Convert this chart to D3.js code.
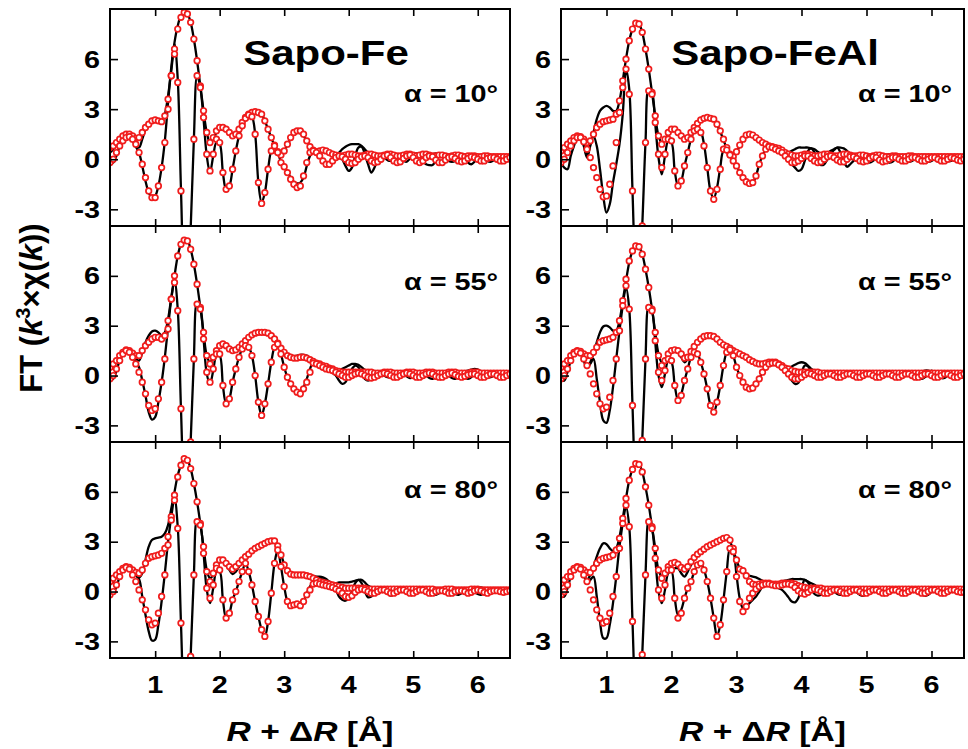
<!DOCTYPE html>
<html><head><meta charset="utf-8">
<script src="https://cdn.jsdelivr.net/npm/d3@7"></script>
<style>body{margin:0;background:#fff}svg{display:block}</style>
</head><body>
<svg id="c" width="968" height="749"></svg>
<script>
// ---------- data ----------
const rGrid = [0.30,0.35,0.40,0.45,0.50,0.55,0.60,0.65,0.70,0.75,
0.80,0.85,0.90,0.95,1.00,1.05,1.10,1.15,1.20,1.25,
1.30,1.35,1.40,1.45,1.50,1.55,1.60,1.65,1.70,1.75,
1.80,1.85,1.90,1.95,2.00,2.05,2.10,2.15,2.20,2.25,
2.30,2.35,2.40,2.45,2.50,2.55,2.60,2.65,2.70,2.75,
2.80,2.85,2.90,2.95,3.00,3.05,3.10,3.15,3.20,3.25,
3.30,3.35,3.40,3.45,3.50,3.55,3.60,3.65,3.70,3.75,
3.80,3.85,3.90,3.95,4.00,4.05,4.10,4.15,4.20,4.25,
4.30,4.35,4.40,4.45,4.50,4.55,4.60,4.65,4.70,4.75,
4.80,4.85,4.90,4.95,5.00,5.05,5.10,5.15,5.20,5.25,
5.30,5.35,5.40,5.45,5.50,5.55,5.60,5.65,5.70,5.75,
5.80,5.85,5.90,5.95,6.00,6.05,6.10,6.15,6.20,6.25,
6.30,6.35,6.40,6.45,6.50];

// Sapo-Fe, alpha = 10
const fe10DataMag = [0.4,0.6,0.9,1.2,1.4,1.5,1.45,1.2,0.8,0.7,
1.2,1.8,2.1,2.3,2.35,2.3,2.25,2.7,3.8,5.3,
7.0,8.0,8.6,8.8,8.7,8.2,7.2,5.9,4.4,2.9,
1.6,1.0,1.2,1.6,1.9,1.95,1.85,1.6,1.4,1.5,
1.8,2.2,2.5,2.7,2.8,2.85,2.8,2.7,2.3,1.8,
1.3,0.8,0.4,0.3,0.5,0.85,1.25,1.5,1.6,1.55,
1.4,1.1,0.8,0.55,0.5,0.55,0.55,0.5,0.4,0.3,
0.3,0.4,0.6,0.75,0.85,0.9,0.9,0.9,0.8,0.6,
0.4,0.3,0.2,0.2,0.3,0.35,0.35,0.3,0.2,0.2,
0.3,0.35,0.35,0.3,0.3,0.35,0.35,0.35,0.3,0.25,
0.3,0.35,0.3,0.2,0.2,0.25,0.3,0.3,0.25,0.2,
0.25,0.3,0.3,0.25,0.2,0.2,0.25,0.25,0.2,0.15,
0.2,0.2,0.15,0.15,0.15];
const fe10DataIm = [0.0,-0.2,0.2,0.8,1.2,1.45,1.4,1.1,0.75,0.4,
-0.4,-1.3,-2.0,-2.3,-2.2,-1.6,-0.5,1.1,3.4,5.5,
6.9,4.8,-1.8,-7.3,-8.6,-4.2,1.2,5.0,4.3,2.4,
0.2,-0.8,0.2,1.0,0.9,-0.8,-1.8,-1.6,-0.6,0.5,
1.4,2.0,2.45,2.65,2.55,1.5,-1.4,-2.6,-2.0,-0.6,
0.5,0.75,0.4,-0.15,-0.45,-0.75,-1.1,-1.35,-1.45,-1.4,
-1.1,-0.4,0.2,0.45,0.4,0.2,-0.1,-0.3,-0.3,-0.1,
0.1,0.2,0.0,-0.4,-0.7,-0.5,0.2,0.7,0.75,0.3,
-0.3,-0.8,-0.5,0.0,0.2,0.1,-0.05,-0.1,0.1,0.25,
0.2,-0.1,-0.15,0.05,0.2,0.3,0.2,-0.1,-0.3,-0.35,
-0.35,-0.1,0.15,0.2,0.05,-0.1,-0.15,-0.1,0.1,0.2,
0.15,-0.2,-0.3,-0.15,0.1,0.2,0.1,-0.1,-0.15,-0.05,
0.1,0.1,0.0,-0.1,-0.1];
const fe10FitMag = [0.7,0.8,1.0,1.2,1.4,1.5,1.5,1.4,1.25,1.3,
1.6,1.9,2.1,2.3,2.35,2.3,2.25,2.6,3.6,5.0,
6.6,7.8,8.5,8.8,8.7,8.2,7.2,5.9,4.4,2.9,
1.6,1.0,1.3,1.7,1.9,1.9,1.8,1.6,1.4,1.5,
1.8,2.2,2.5,2.7,2.8,2.85,2.8,2.7,2.3,1.8,
1.3,0.85,0.45,0.25,0.5,0.9,1.3,1.6,1.7,1.7,
1.5,1.1,0.75,0.55,0.45,0.5,0.55,0.5,0.4,0.3,
0.25,0.2,0.2,0.25,0.3,0.3,0.25,0.2,0.2,0.25,
0.3,0.3,0.25,0.2,0.2,0.25,0.3,0.3,0.25,0.2,
0.2,0.25,0.3,0.3,0.25,0.2,0.25,0.3,0.3,0.25,
0.2,0.2,0.25,0.25,0.2,0.15,0.2,0.25,0.25,0.2,
0.15,0.2,0.2,0.2,0.15,0.15,0.2,0.2,0.15,0.15,
0.15,0.15,0.15,0.15,0.15];
const fe10FitIm = [-0.2,0.0,0.4,0.8,1.1,1.3,1.35,1.2,0.9,0.4,
-0.3,-1.1,-1.9,-2.3,-2.3,-1.6,-0.5,1.0,3.0,5.0,
6.3,4.6,-1.9,-7.3,-8.6,-4.2,1.2,5.0,4.3,2.5,
0.3,-0.7,0.3,1.2,1.0,-0.8,-1.8,-1.6,-0.6,0.5,
1.4,2.0,2.45,2.65,2.55,1.5,-1.4,-2.65,-2.0,-0.6,
0.5,0.8,0.4,-0.2,-0.45,-0.8,-1.2,-1.5,-1.7,-1.6,
-1.0,-0.2,0.4,0.5,0.4,0.2,-0.1,-0.3,-0.3,-0.1,
0.1,0.2,0.15,0.0,-0.2,-0.25,-0.2,0.0,0.15,0.2,
0.1,-0.1,-0.2,-0.15,0.0,0.2,0.25,0.1,-0.1,-0.2,
-0.15,0.05,0.2,0.25,0.1,-0.1,-0.2,-0.1,0.1,0.2,
0.15,-0.05,-0.2,-0.2,-0.05,0.1,0.15,0.05,-0.1,-0.15,
-0.1,0.05,0.15,0.1,0.0,-0.1,-0.1,0.05,0.1,0.1,
0.0,-0.1,-0.1,0.0,0.1];

// Sapo-Fe, alpha = 55
const fe55DataMag = [0.4,0.6,0.9,1.2,1.4,1.55,1.5,1.3,1.0,0.9,
1.4,2.0,2.4,2.65,2.7,2.6,2.4,2.6,3.4,4.7,
6.0,7.2,7.9,8.15,8.1,7.6,6.7,5.5,4.1,2.6,
1.2,0.8,1.1,1.5,1.75,1.85,1.75,1.6,1.5,1.55,
1.7,1.9,2.1,2.3,2.45,2.55,2.6,2.6,2.6,2.55,
2.4,2.2,1.95,1.7,1.45,1.25,1.15,1.15,1.2,1.25,
1.25,1.2,1.05,0.9,0.75,0.7,0.6,0.55,0.45,0.35,
0.3,0.3,0.4,0.5,0.6,0.7,0.7,0.65,0.5,0.35,
0.3,0.25,0.2,0.2,0.2,0.25,0.25,0.2,0.2,0.2,
0.2,0.2,0.25,0.25,0.2,0.2,0.2,0.2,0.2,0.25,
0.25,0.2,0.2,0.15,0.2,0.25,0.3,0.3,0.25,0.2,
0.25,0.3,0.35,0.4,0.35,0.25,0.2,0.2,0.2,0.2,
0.2,0.2,0.15,0.15,0.15];
const fe55DataIm = [-0.2,-0.2,0.3,0.9,1.3,1.5,1.4,1.1,0.8,0.5,
-0.3,-1.2,-2.2,-2.65,-2.5,-1.6,-0.4,1.1,2.9,4.6,
5.7,4.0,-2.0,-6.8,-8.0,-4.0,1.0,4.4,4.1,2.2,
0.1,-0.5,0.3,1.2,1.2,-0.6,-1.7,-1.4,-0.4,0.4,
1.1,1.6,1.8,1.7,1.2,0.0,-1.6,-2.4,-1.7,-0.5,
0.8,1.7,1.9,1.3,0.5,-0.1,-0.5,-0.8,-1.0,-1.0,
-0.7,-0.2,0.4,0.8,0.7,0.6,0.5,0.4,0.3,0.15,
0.0,-0.3,-0.5,-0.4,0.0,0.4,0.6,0.5,0.1,-0.2,
-0.3,-0.2,0.0,0.1,0.1,0.0,-0.1,-0.1,0.0,0.1,
0.15,0.1,-0.05,-0.15,-0.1,0.05,0.15,0.15,0.0,-0.15,
-0.2,-0.1,0.05,0.1,0.1,0.0,-0.15,-0.2,-0.1,0.05,
-0.1,-0.2,-0.1,0.2,0.35,0.2,0.0,-0.1,-0.1,0.0,
0.1,0.1,0.0,-0.1,-0.1];
const fe55FitMag = [0.5,0.7,0.9,1.2,1.4,1.55,1.5,1.35,1.2,1.2,
1.5,1.8,2.0,2.2,2.3,2.3,2.2,2.4,3.3,4.6,
6.0,7.2,7.9,8.15,8.1,7.6,6.7,5.5,4.1,2.6,
1.2,0.7,1.1,1.5,1.8,1.9,1.8,1.6,1.5,1.55,
1.7,1.9,2.1,2.3,2.45,2.55,2.6,2.6,2.6,2.55,
2.4,2.2,1.95,1.65,1.4,1.2,1.1,1.05,1.05,1.1,
1.1,1.05,0.95,0.85,0.75,0.7,0.6,0.55,0.45,0.4,
0.3,0.25,0.2,0.2,0.2,0.2,0.2,0.2,0.2,0.2,
0.2,0.2,0.15,0.15,0.15,0.2,0.2,0.2,0.15,0.15,
0.15,0.15,0.2,0.2,0.2,0.15,0.15,0.15,0.2,0.2,
0.2,0.15,0.15,0.15,0.15,0.2,0.2,0.2,0.15,0.15,
0.15,0.15,0.2,0.2,0.2,0.15,0.15,0.15,0.15,0.15,
0.15,0.15,0.15,0.15,0.15];
const fe55FitIm = [-0.2,0.0,0.4,0.9,1.3,1.5,1.4,1.1,0.7,0.2,
-0.4,-1.1,-1.8,-2.1,-2.0,-1.4,-0.4,1.0,2.8,4.6,
5.6,3.9,-2.0,-6.8,-8.0,-4.0,1.0,4.3,4.0,2.2,
0.2,-0.4,0.4,1.3,1.3,-0.6,-1.7,-1.4,-0.4,0.4,
1.1,1.6,1.8,1.7,1.2,0.0,-1.6,-2.4,-1.7,-0.5,
0.8,1.7,1.9,1.3,0.5,-0.1,-0.5,-0.8,-1.0,-1.1,
-0.8,-0.4,0.2,0.75,0.7,0.6,0.5,0.4,0.35,0.3,
0.2,0.1,0.0,-0.1,-0.1,0.0,0.1,0.15,0.1,0.0,
-0.1,-0.15,-0.1,0.0,0.1,0.15,0.1,0.0,-0.1,-0.1,
0.0,0.1,0.15,0.1,0.0,-0.1,-0.1,0.0,0.1,0.15,
0.1,-0.05,-0.1,-0.1,0.0,0.1,0.15,0.05,-0.05,-0.1,
-0.05,0.05,0.1,0.1,0.0,-0.1,-0.1,0.0,0.1,0.1,
0.0,-0.1,-0.1,0.0,0.1];

// Sapo-Fe, alpha = 80
const fe80DataMag = [0.4,0.6,0.9,1.2,1.4,1.5,1.45,1.3,1.0,0.85,
1.1,1.9,2.7,3.1,3.2,3.25,3.3,3.5,4.0,5.0,
6.0,7.0,7.6,8.0,7.9,7.4,6.5,5.4,4.1,2.7,
1.3,0.8,1.0,1.4,1.75,1.8,1.6,1.3,1.05,1.2,
1.5,1.8,2.05,2.25,2.45,2.6,2.7,2.8,2.9,3.0,
3.05,3.0,2.75,2.25,1.65,1.3,1.15,1.1,1.1,1.1,
1.05,1.0,1.0,0.95,0.9,0.9,0.85,0.75,0.6,0.5,
0.5,0.55,0.55,0.55,0.55,0.6,0.65,0.7,0.7,0.55,
0.35,0.25,0.2,0.2,0.2,0.25,0.25,0.2,0.2,0.2,
0.2,0.2,0.2,0.25,0.25,0.2,0.2,0.2,0.2,0.2,
0.2,0.2,0.2,0.2,0.25,0.25,0.2,0.2,0.2,0.2,
0.2,0.2,0.2,0.2,0.25,0.25,0.2,0.2,0.2,0.2,
0.2,0.2,0.2,0.2,0.2];
const fe80DataIm = [-0.2,-0.1,0.3,0.9,1.3,1.5,1.4,1.15,0.95,0.75,
-0.3,-1.4,-2.4,-2.95,-2.9,-2.0,-0.6,1.1,3.0,4.5,
5.6,3.9,-1.9,-6.7,-7.9,-3.9,1.0,4.3,4.0,2.3,
0.1,-0.7,0.2,1.2,1.2,-0.5,-1.6,-1.3,-0.5,0.0,
0.6,1.2,1.7,1.2,0.4,-0.6,-1.5,-2.3,-2.7,-1.8,
-0.1,1.7,2.5,1.5,0.3,-0.6,-0.9,-0.9,-0.85,-0.85,
-0.6,-0.1,0.3,0.6,0.8,0.8,0.7,0.6,0.5,0.4,
0.1,-0.3,-0.5,-0.55,-0.4,0.0,0.5,0.7,0.5,0.0,
-0.35,-0.3,-0.1,0.1,0.15,0.05,-0.1,-0.25,-0.15,0.05,
0.15,0.1,-0.05,-0.15,-0.2,-0.1,0.05,0.15,0.1,-0.05,
-0.15,-0.2,-0.1,0.05,0.15,0.1,-0.05,-0.15,-0.2,-0.1,
0.05,0.15,0.1,-0.05,-0.15,-0.2,-0.1,0.05,0.1,0.05,
-0.05,-0.1,-0.05,0.0,0.05];
const fe80FitMag = [0.6,0.8,1.0,1.2,1.4,1.5,1.45,1.3,1.15,1.1,
1.3,1.7,2.0,2.1,2.15,2.2,2.3,2.6,3.3,4.5,
5.8,6.9,7.6,8.0,7.9,7.4,6.5,5.4,4.1,2.7,
1.2,0.6,1.1,1.6,1.9,1.9,1.7,1.5,1.35,1.5,
1.7,1.9,2.1,2.25,2.45,2.6,2.7,2.8,2.9,3.0,
3.05,3.05,2.75,2.2,1.6,1.25,1.05,1.0,1.0,1.0,
1.0,0.95,0.9,0.8,0.7,0.6,0.55,0.5,0.45,0.4,
0.35,0.3,0.25,0.2,0.2,0.2,0.2,0.2,0.2,0.2,
0.15,0.15,0.15,0.15,0.15,0.15,0.15,0.15,0.15,0.15,
0.15,0.15,0.15,0.15,0.15,0.15,0.15,0.15,0.15,0.15,
0.15,0.1,0.1,0.1,0.15,0.15,0.15,0.1,0.1,0.1,
0.1,0.1,0.15,0.15,0.15,0.1,0.1,0.1,0.1,0.1,
0.1,0.1,0.1,0.1,0.1];
const fe80FitIm = [-0.2,0.0,0.4,0.9,1.3,1.45,1.35,1.0,0.6,0.1,
-0.5,-1.1,-1.7,-2.0,-1.9,-1.3,-0.3,1.0,2.8,4.3,
5.5,3.8,-1.9,-6.7,-7.9,-3.9,1.0,4.2,4.0,2.3,
0.2,-0.4,0.4,1.4,1.3,-0.5,-1.6,-1.3,-0.5,0.0,
0.6,1.2,1.7,1.2,0.4,-0.6,-1.5,-2.3,-2.7,-1.8,
-0.1,1.7,2.5,1.5,0.3,-0.6,-0.85,-0.8,-0.75,-0.85,
-0.6,-0.2,0.1,0.45,0.5,0.45,0.4,0.35,0.3,0.25,
0.15,0.05,-0.1,-0.3,-0.35,-0.25,-0.05,0.1,0.15,0.1,
0.0,-0.1,-0.1,0.0,0.1,0.1,0.0,-0.1,-0.1,0.0,
0.1,0.1,0.0,-0.1,-0.1,0.0,0.1,0.1,0.0,-0.1,
-0.1,0.0,0.05,0.05,0.0,-0.1,-0.1,0.0,0.05,0.05,
0.0,-0.1,-0.05,0.05,0.1,0.05,-0.05,-0.1,0.0,0.05,
0.05,0.0,-0.05,0.0,0.05];

// Sapo-FeAl, alpha = 10
const feal10DataMag = [0.5,0.6,0.9,1.1,1.3,1.4,1.35,0.9,0.2,0.9,
1.6,2.4,2.9,3.1,3.2,3.1,2.9,2.9,3.5,4.7,
6.0,7.1,7.8,8.15,8.1,7.6,6.6,5.4,4.0,2.6,
1.4,1.0,1.2,1.5,1.75,1.75,1.55,1.3,1.15,1.3,
1.6,1.9,2.2,2.4,2.5,2.5,2.45,2.35,2.05,1.65,
1.15,0.65,0.3,0.2,0.45,0.8,1.15,1.4,1.5,1.45,
1.3,1.15,1.0,0.9,0.8,0.75,0.7,0.6,0.5,0.4,
0.4,0.5,0.6,0.7,0.7,0.7,0.7,0.65,0.6,0.45,
0.35,0.35,0.4,0.5,0.6,0.7,0.7,0.65,0.5,0.35,
0.3,0.3,0.3,0.3,0.25,0.25,0.3,0.3,0.3,0.25,
0.25,0.3,0.3,0.25,0.2,0.2,0.25,0.25,0.2,0.2,
0.2,0.25,0.25,0.2,0.2,0.2,0.2,0.2,0.2,0.2,
0.2,0.2,0.2,0.2,0.2];
const feal10DataIm = [-0.2,-0.5,-0.6,0.2,0.8,1.3,1.3,0.8,0.1,0.8,
1.4,0.8,-0.6,-2.2,-3.2,-2.7,-1.4,-0.3,0.9,2.7,
5.4,4.2,-1.9,-6.8,-8.0,-4.0,1.0,4.2,4.0,2.1,
0.1,-0.9,0.2,1.1,1.0,-0.7,-1.6,-1.3,-0.4,0.4,
1.2,1.7,1.9,1.7,0.9,-0.5,-1.9,-2.35,-1.7,-0.5,
0.5,0.5,0.25,-0.15,-0.4,-0.75,-1.05,-1.3,-1.45,-1.4,
-1.0,-0.3,0.2,0.6,0.75,0.7,0.6,0.45,0.3,0.1,
-0.1,-0.3,-0.5,-0.7,-0.6,-0.1,0.5,0.65,0.4,-0.1,
-0.35,-0.3,0.0,0.3,0.55,0.7,0.4,-0.1,-0.45,-0.3,
-0.1,0.1,0.2,0.1,-0.1,-0.2,-0.1,0.1,0.2,0.1,
-0.1,-0.2,-0.15,0.05,0.15,0.1,-0.05,-0.15,-0.1,0.05,
0.15,0.1,-0.05,-0.15,-0.1,0.05,0.15,0.1,-0.05,-0.1,
-0.1,0.0,0.1,0.1,0.0];
const feal10FitMag = [0.5,0.7,0.9,1.1,1.3,1.4,1.35,1.2,1.0,1.1,
1.5,1.9,2.1,2.25,2.3,2.35,2.4,2.7,3.5,4.7,
6.0,7.1,7.8,8.15,8.1,7.6,6.6,5.4,4.0,2.6,
1.4,0.9,1.2,1.6,1.8,1.8,1.6,1.4,1.2,1.3,
1.6,1.9,2.15,2.35,2.45,2.5,2.45,2.4,2.1,1.7,
1.2,0.7,0.3,0.15,0.45,0.85,1.2,1.45,1.5,1.45,
1.3,1.15,1.0,0.9,0.8,0.75,0.7,0.65,0.55,0.4,
0.3,0.25,0.2,0.2,0.25,0.3,0.3,0.25,0.2,0.2,
0.25,0.3,0.3,0.25,0.2,0.2,0.25,0.3,0.3,0.25,
0.2,0.2,0.25,0.25,0.2,0.15,0.2,0.25,0.25,0.2,
0.15,0.15,0.2,0.2,0.15,0.15,0.15,0.2,0.2,0.15,
0.15,0.15,0.15,0.15,0.15,0.15,0.15,0.15,0.15,0.15,
0.15,0.15,0.15,0.15,0.15];
const feal10FitIm = [-0.2,0.0,0.4,0.8,1.1,1.3,1.3,1.05,0.6,0.1,
-0.5,-1.1,-1.8,-2.25,-2.2,-1.5,-0.4,1.0,2.8,4.3,
5.4,3.9,-1.9,-6.8,-8.0,-4.0,1.0,4.1,3.9,2.2,
0.3,-0.5,0.3,1.2,1.1,-0.7,-1.6,-1.3,-0.4,0.4,
1.2,1.7,1.8,1.6,0.8,-0.5,-1.9,-2.4,-1.8,-0.6,
0.6,0.55,0.25,-0.1,-0.4,-0.8,-1.1,-1.35,-1.45,-1.4,
-1.0,-0.3,0.2,0.6,0.75,0.7,0.6,0.5,0.4,0.2,
0.0,-0.2,-0.2,-0.1,0.05,0.2,0.2,0.05,-0.1,-0.2,
-0.15,0.0,0.15,0.2,0.1,-0.05,-0.15,-0.15,0.0,0.15,
0.15,0.05,-0.1,-0.15,-0.1,0.05,0.15,0.1,-0.05,-0.15,
-0.1,0.0,0.1,0.1,0.0,-0.1,-0.1,0.0,0.1,0.1,
0.0,-0.1,-0.1,0.0,0.1,0.1,0.0,-0.1,-0.1,0.0,
0.1,0.05,-0.05,-0.1,0.0];

// Sapo-FeAl, alpha = 55
const feal55DataMag = [0.4,0.6,0.9,1.2,1.4,1.5,1.4,1.0,0.5,0.8,
1.3,2.0,2.6,2.95,3.0,2.9,2.7,2.7,3.3,4.5,
5.7,6.8,7.5,7.8,7.75,7.3,6.4,5.3,4.0,2.6,
1.3,0.8,0.9,1.2,1.4,1.5,1.45,1.1,0.8,1.0,
1.35,1.7,2.0,2.2,2.35,2.4,2.4,2.35,2.2,2.0,
1.85,1.75,1.65,1.5,1.4,1.3,1.2,1.1,1.0,0.9,
0.8,0.75,0.75,0.75,0.8,0.8,0.8,0.7,0.55,0.45,
0.45,0.55,0.65,0.75,0.8,0.75,0.6,0.4,0.3,0.25,
0.2,0.2,0.2,0.2,0.2,0.2,0.2,0.2,0.2,0.2,
0.2,0.2,0.25,0.25,0.2,0.2,0.2,0.25,0.25,0.2,
0.2,0.2,0.2,0.2,0.25,0.25,0.2,0.2,0.2,0.2,
0.2,0.25,0.3,0.3,0.25,0.2,0.2,0.2,0.2,0.2,
0.2,0.2,0.2,0.2,0.2];
const feal55DataIm = [-0.3,-0.3,0.2,0.9,1.3,1.5,1.35,0.9,0.45,0.7,
1.0,-0.2,-1.6,-2.7,-2.85,-2.1,-0.7,1.0,2.7,4.2,
5.3,4.0,-1.8,-6.6,-7.7,-3.9,1.0,4.2,3.9,2.0,
0.0,-0.7,0.1,0.9,0.8,-0.6,-1.45,-1.1,-0.3,0.4,
1.1,1.4,1.3,0.8,0.1,-0.8,-1.8,-2.2,-1.6,-0.6,
0.6,1.4,1.55,1.2,0.5,0.0,-0.4,-0.7,-0.8,-0.75,
-0.5,-0.2,0.2,0.5,0.7,0.75,0.75,0.6,0.4,0.2,
0.0,-0.3,-0.5,-0.45,0.1,0.6,0.55,0.2,-0.1,-0.2,
-0.15,0.0,0.15,0.15,0.0,-0.15,-0.15,0.0,0.15,0.15,
0.0,-0.15,-0.2,-0.05,0.1,0.15,0.05,-0.1,-0.2,-0.1,
0.1,0.2,0.15,-0.05,-0.2,-0.15,0.0,0.15,0.2,0.1,
-0.1,-0.2,-0.1,0.15,0.3,0.2,0.0,-0.15,-0.15,0.0,
0.1,0.1,0.0,-0.1,-0.1];
const feal55FitMag = [0.5,0.7,0.9,1.2,1.4,1.5,1.45,1.3,1.2,1.2,
1.4,1.7,2.0,2.1,2.15,2.2,2.3,2.6,3.3,4.5,
5.8,6.9,7.5,7.8,7.75,7.3,6.4,5.3,4.0,2.6,
1.2,0.6,0.9,1.3,1.5,1.55,1.5,1.3,1.05,1.1,
1.45,1.75,2.0,2.2,2.35,2.4,2.4,2.35,2.2,2.0,
1.85,1.75,1.65,1.5,1.4,1.3,1.2,1.1,0.95,0.85,
0.75,0.7,0.7,0.75,0.8,0.8,0.8,0.7,0.6,0.45,
0.4,0.3,0.25,0.2,0.2,0.2,0.2,0.2,0.2,0.2,
0.15,0.15,0.15,0.15,0.15,0.15,0.15,0.15,0.15,0.15,
0.15,0.15,0.15,0.15,0.15,0.15,0.15,0.15,0.15,0.15,
0.15,0.15,0.15,0.15,0.15,0.15,0.15,0.15,0.15,0.15,
0.15,0.15,0.15,0.15,0.15,0.15,0.15,0.15,0.15,0.15,
0.15,0.15,0.15,0.15,0.15];
const feal55FitIm = [-0.2,0.0,0.4,0.9,1.3,1.45,1.35,1.0,0.6,0.1,
-0.5,-1.1,-1.7,-2.0,-1.9,-1.3,-0.3,1.0,2.7,4.2,
5.4,4.0,-1.8,-6.6,-7.7,-3.9,1.0,4.1,3.9,2.1,
0.2,-0.3,0.3,1.0,0.9,-0.6,-1.5,-1.2,-0.3,0.4,
1.1,1.4,1.3,0.8,0.1,-0.8,-1.8,-2.2,-1.6,-0.6,
0.6,1.4,1.55,1.2,0.5,0.0,-0.4,-0.7,-0.8,-0.75,
-0.5,-0.2,0.2,0.5,0.7,0.75,0.75,0.65,0.5,0.3,
0.1,-0.1,-0.2,-0.2,-0.1,0.05,0.15,0.1,0.0,-0.1,
-0.1,0.0,0.1,0.1,0.0,-0.1,-0.1,0.0,0.1,0.1,
0.0,-0.1,-0.1,0.0,0.1,0.1,0.0,-0.1,-0.1,0.0,
0.1,0.1,0.0,-0.1,-0.1,0.0,0.1,0.1,0.0,-0.1,
-0.1,0.0,0.1,0.1,0.0,-0.1,-0.1,0.0,0.1,0.1,
0.0,-0.1,-0.1,0.0,0.1];

// Sapo-FeAl, alpha = 80
const feal80DataMag = [0.4,0.6,0.9,1.2,1.4,1.5,1.4,1.1,0.7,1.0,
1.5,2.1,2.6,2.9,2.85,2.6,2.45,2.6,3.3,4.4,
5.6,6.7,7.35,7.7,7.65,7.2,6.3,5.2,3.9,2.6,
1.3,0.9,1.0,1.3,1.35,1.4,1.4,1.1,0.9,1.2,
1.6,1.95,2.2,2.4,2.55,2.7,2.8,2.9,3.0,3.1,
3.2,3.2,3.0,2.5,1.9,1.4,1.2,1.0,0.95,0.9,
0.85,0.75,0.65,0.55,0.5,0.45,0.45,0.5,0.6,0.65,
0.7,0.75,0.75,0.75,0.75,0.7,0.6,0.5,0.4,0.3,
0.25,0.2,0.2,0.2,0.2,0.25,0.25,0.2,0.2,0.2,
0.2,0.25,0.25,0.25,0.2,0.2,0.2,0.2,0.2,0.2,
0.2,0.2,0.2,0.25,0.25,0.2,0.2,0.2,0.25,0.25,
0.2,0.2,0.2,0.2,0.2,0.2,0.2,0.2,0.2,0.2,
0.2,0.2,0.2,0.2,0.2];
const feal80DataIm = [-0.3,-0.3,0.2,0.9,1.3,1.5,1.35,1.0,0.5,0.7,
0.9,-0.3,-1.8,-2.8,-2.8,-2.0,-0.7,0.9,2.7,4.1,
5.1,3.9,-1.8,-6.5,-7.6,-3.8,1.0,4.3,3.8,2.0,
0.0,-0.7,0.1,1.1,1.2,-0.4,-1.4,-1.1,-0.4,0.2,
0.6,1.2,1.6,1.7,1.3,0.6,-0.4,-1.6,-2.7,-2.0,
-0.5,1.2,2.6,2.4,1.0,-0.4,-1.0,-0.9,-0.7,-0.5,
-0.3,0.0,0.3,0.45,0.45,0.4,0.3,0.2,0.1,-0.1,
-0.35,-0.6,-0.65,-0.4,0.2,0.7,0.55,0.2,-0.15,-0.25,
-0.2,0.0,0.15,0.15,0.0,-0.15,-0.2,-0.1,0.05,0.15,
0.1,-0.05,-0.2,-0.25,-0.1,0.05,0.15,0.1,-0.05,-0.15,
-0.1,0.05,0.15,0.15,0.0,-0.15,-0.2,-0.1,0.05,0.15,
0.1,-0.1,-0.25,-0.2,0.0,0.15,0.15,0.0,-0.1,-0.1,
0.0,0.1,0.05,0.0,-0.05];
const feal80FitMag = [0.5,0.7,0.9,1.2,1.4,1.5,1.45,1.3,1.15,1.15,
1.4,1.7,1.9,2.0,2.05,2.1,2.2,2.5,3.2,4.4,
5.6,6.7,7.35,7.7,7.65,7.2,6.3,5.2,3.9,2.6,
1.3,0.8,1.1,1.5,1.7,1.75,1.65,1.45,1.35,1.5,
1.8,2.05,2.25,2.4,2.55,2.7,2.8,2.9,3.0,3.1,
3.2,3.25,3.1,2.6,1.9,1.35,1.25,0.95,0.6,0.45,
0.4,0.45,0.5,0.5,0.5,0.45,0.45,0.45,0.5,0.5,
0.5,0.5,0.45,0.35,0.3,0.25,0.2,0.2,0.2,0.2,
0.2,0.15,0.15,0.15,0.15,0.15,0.15,0.15,0.15,0.15,
0.15,0.15,0.15,0.15,0.15,0.15,0.15,0.15,0.15,0.15,
0.15,0.15,0.15,0.15,0.15,0.15,0.15,0.15,0.15,0.15,
0.15,0.15,0.15,0.15,0.15,0.15,0.15,0.15,0.15,0.15,
0.15,0.15,0.15,0.15,0.15];
const feal80FitIm = [-0.2,0.0,0.4,0.9,1.3,1.45,1.35,1.0,0.6,0.1,
-0.5,-1.1,-1.6,-1.9,-1.8,-1.3,-0.3,0.9,2.6,4.1,
5.2,3.9,-1.8,-6.5,-7.6,-3.8,1.0,4.2,3.8,2.0,
0.1,-0.4,0.4,1.3,1.3,-0.4,-1.6,-1.3,-0.4,0.2,
0.6,1.2,1.6,1.7,1.3,0.6,-0.4,-1.6,-2.7,-2.0,
-0.5,1.2,2.6,2.4,0.9,-0.6,-1.2,-0.9,-0.4,-0.1,
0.15,0.3,0.4,0.45,0.45,0.4,0.35,0.35,0.4,0.45,
0.45,0.4,0.25,0.05,-0.1,-0.15,-0.05,0.1,0.15,0.1,
0.0,-0.1,-0.1,0.0,0.1,0.1,0.0,-0.1,-0.1,0.0,
0.1,0.1,0.0,-0.1,-0.1,0.0,0.1,0.1,0.0,-0.1,
-0.1,0.0,0.1,0.1,0.0,-0.1,-0.1,0.0,0.1,0.1,
0.0,-0.1,-0.1,0.0,0.1,0.1,0.0,-0.1,-0.1,0.0,
0.1,0.1,0.0,-0.05,-0.05];

const sampleTitles = ["Sapo-Fe", "Sapo-FeAl"];
const angleLabels = ["α = 10°", "α = 55°", "α = 80°"];
const xTicks = [1, 2, 3, 4, 5, 6];
const yTicks = [-3, 0, 3, 6];

// ---------- layout ----------
const colX = [[110, 510], [561, 964]];
const rowY = [[9, 226], [226, 442], [442, 658]];
const angleBase = [93, 64, 56];
const xDomain = [0.3, 6.5], yDomain = [-4, 9];
const RED = "#f01c1c";
const SX = 1.2;
const FONT = "'Liberation Sans', Arial, Helvetica, sans-serif";

const panels = [
  {col:0,row:0,dm:fe10DataMag,di:fe10DataIm,fm:fe10FitMag,fi:fe10FitIm},
  {col:0,row:1,dm:fe55DataMag,di:fe55DataIm,fm:fe55FitMag,fi:fe55FitIm},
  {col:0,row:2,dm:fe80DataMag,di:fe80DataIm,fm:fe80FitMag,fi:fe80FitIm},
  {col:1,row:0,dm:feal10DataMag,di:feal10DataIm,fm:feal10FitMag,fi:feal10FitIm},
  {col:1,row:1,dm:feal55DataMag,di:feal55DataIm,fm:feal55FitMag,fi:feal55FitIm},
  {col:1,row:2,dm:feal80DataMag,di:feal80DataIm,fm:feal80FitMag,fi:feal80FitIm}
];

const svg = d3.select("#c");
svg.append("rect").attr("width",968).attr("height",749).attr("fill","#fff");
const defs = svg.append("defs");

function sText(parent, x, y, txt, size, anchor) {
  return parent.append("text")
    .attr("transform", `translate(${x},${y}) scale(${SX},1)`)
    .attr("text-anchor", anchor)
    .attr("font-family", FONT).attr("font-weight", "bold")
    .attr("font-size", size).attr("fill", "#000").text(txt);
}

panels.forEach((p, idx) => {
  const [x0, x1] = colX[p.col], [y0, y1] = rowY[p.row];
  const x = d3.scaleLinear().domain(xDomain).range([x0, x1]);
  const y = d3.scaleLinear().domain(yDomain).range([y1, y0]);
  const g = svg.append("g");
  defs.append("clipPath").attr("id", "clip" + idx)
    .append("rect").attr("x", x0).attr("y", y0).attr("width", x1 - x0).attr("height", y1 - y0);
  const plot = g.append("g").attr("clip-path", `url(#clip${idx})`);
  const line = d3.line().x((d, i) => x(rGrid[i])).y(d => y(d)).curve(d3.curveCatmullRom.alpha(0.5));
  [p.dm, p.di].forEach(arr => plot.append("path").attr("d", line(arr))
    .attr("fill", "none").attr("stroke", "#000").attr("stroke-width", 2.3).attr("stroke-linejoin","round"));
  [p.fm, p.fi].forEach(arr => plot.append("g").selectAll("circle").data(arr).join("circle")
    .attr("cx", (d, i) => x(rGrid[i])).attr("cy", d => y(d)).attr("r", 2.8)
    .attr("fill", "#fff").attr("stroke", RED).attr("stroke-width", 1.7));

  // ticks (inward)
  const axB = g.append("g").attr("transform", `translate(0,${y1})`)
    .call(d3.axisBottom(x).tickValues(xTicks).tickSize(-7).tickFormat(""));
  const axT = g.append("g").attr("transform", `translate(0,${y0})`)
    .call(d3.axisTop(x).tickValues(xTicks).tickSize(-7).tickFormat(""));
  const axL = g.append("g").attr("transform", `translate(${x0},0)`)
    .call(d3.axisLeft(y).tickValues(yTicks).tickSize(-8).tickFormat(""));
  [axB, axT, axL].forEach(a => {
    a.select(".domain").remove();
    a.selectAll("line").attr("stroke", "#000").attr("stroke-width", 1.6);
  });

  // frame
  g.append("rect").attr("x", x0).attr("y", y0).attr("width", x1 - x0).attr("height", y1 - y0)
    .attr("fill", "none").attr("stroke", "#000").attr("stroke-width", 2);

  // y tick labels
  yTicks.forEach(t => sText(g, x0 - 10, y(t) + 8.5, String(t), 24, "end"));
  // x tick labels (bottom row)
  if (p.row === 2) xTicks.forEach(t => sText(g, x(t), 693, String(t), 24, "middle"));
  // angle label
  sText(g, x1 - 12, y0 + angleBase[p.row], angleLabels[p.row], 24, "end");
  // sample title
  if (p.row === 0) sText(g, p.col === 0 ? 326 : 775, 65, sampleTitles[p.col], 35, "middle");
  // x axis title
  if (p.row === 2) {
    const t = g.append("text").attr("transform", `translate(${(x0 + x1) / 2},741) scale(${SX},1)`)
      .attr("text-anchor", "middle").attr("font-family", FONT).attr("font-weight", "bold")
      .attr("font-size", 28).attr("fill", "#000");
    t.append("tspan").attr("font-style", "italic").text("R");
    t.append("tspan").text(" + Δ");
    t.append("tspan").attr("font-style", "italic").text("R");
    t.append("tspan").text(" [Å]");
  }
});

// y axis title
const yt = svg.append("text").attr("transform", "translate(42,308) rotate(-90)")
  .attr("text-anchor", "middle").attr("font-family", FONT).attr("font-weight", "bold")
  .attr("font-size", 31).attr("fill", "#000");
yt.append("tspan").text("FT (");
yt.append("tspan").attr("font-style", "italic").text("k");
yt.append("tspan").attr("font-size", 20).attr("dy", -12).text("3");
yt.append("tspan").attr("dy", 12).text("×χ(");
yt.append("tspan").attr("font-style", "italic").text("k");
yt.append("tspan").text("))");
</script>
</body></html>
